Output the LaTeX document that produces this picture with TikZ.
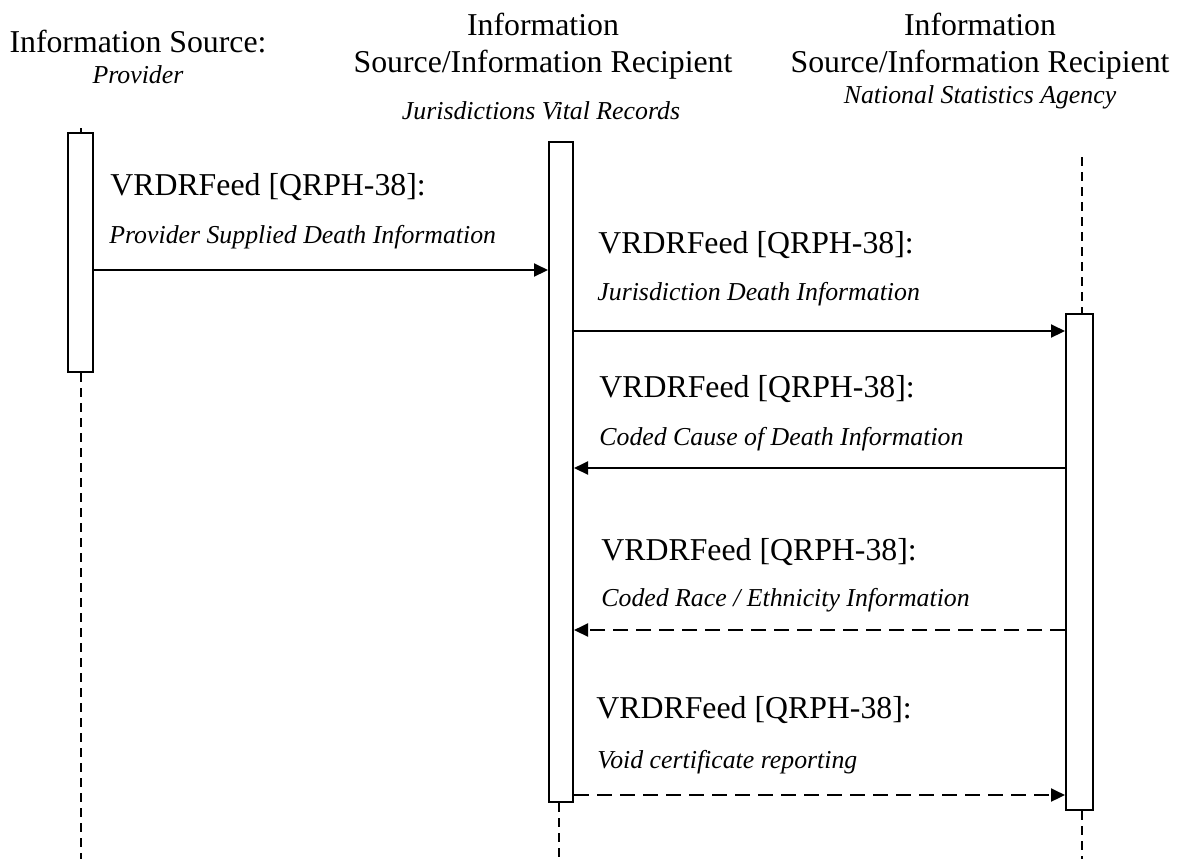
\documentclass[tikz,border=0pt]{standalone}
\usepackage{fontspec}
\setmainfont{Liberation Serif}
\usetikzlibrary{arrows.meta,fit}
\begin{document}
\begin{tikzpicture}[x=0.5pt,y=-0.5pt,
  bar/.style={draw, line width=1pt, fill=white, inner sep=0pt},
  life/.style={line width=1pt, dash pattern=on 4.5pt off 3pt},
  msg/.style={line width=1pt, -{Triangle[length=7pt,width=6.5pt]}},
  dmsg/.style={msg, dash pattern=on 7.5pt off 4pt},
  hdr/.style={anchor=base, inner sep=0pt, font=\fontsize{15.9pt}{19pt}\selectfont},
  hdri/.style={anchor=base, inner sep=0pt, font=\fontsize{12.9pt}{15pt}\selectfont\itshape},
  lbl/.style={anchor=base west, inner sep=0pt, font=\fontsize{15.9pt}{19pt}\selectfont},
  lbli/.style={anchor=base west, inner sep=0pt, font=\fontsize{12.9pt}{15pt}\selectfont\itshape}]
\useasboundingbox (0,0) rectangle (1186,859);

% headers
\node[hdr]  (h1a) at (138,52)  {Information Source:};
\node[hdri] (h1b) at (138,83)  {Provider};
\node[hdr]  (h2a) at (543,35)  {Information};
\node[hdr]  (h2b) at (543,72)  {Source/Information Recipient};
\node[hdri] (h2c) at (541,119) {Jurisdictions Vital Records};
\node[hdr]  (h3a) at (980,35)  {Information};
\node[hdr]  (h3b) at (980,72)  {Source/Information Recipient};
\node[hdri] (h3c) at (980,103) {National Statistics Agency};

% lifelines
\coordinate (lAtop) at (80.5,128);
\coordinate (lAbot) at (80.5,859);
\coordinate (lBbot) at (559,859);
\coordinate (lCtop) at (1082,157);
\coordinate (lCbot) at (1082,859);

% activation bars
\node[bar, fit={(68,133) (93,372)}] (barA) {};
\node[bar, fit={(549,142) (573,802)}] (barB) {};
\node[bar, fit={(1066,314) (1093,810)}] (barC) {};

\draw[life] (lAtop) -- (barA.north -| lAtop);
\draw[life] (barA.south -| lAbot) -- (lAbot);
\draw[life] (barB.south -| lBbot) -- (lBbot);
\draw[life] (lCtop) -- (barC.north -| lCtop);
\draw[life] (barC.south -| lCbot) -- (lCbot);

% message rows
\coordinate (y1) at (0,270);
\coordinate (y2) at (0,331);
\coordinate (y3) at (0,468);
\coordinate (y4) at (0,630);
\coordinate (y5) at (0,795);

\draw[msg]  (barA.east |- y1) -- (barB.west |- y1);
\draw[msg]  (barB.east |- y2) -- (barC.west |- y2);
\draw[msg]  (barC.west |- y3) -- (barB.east |- y3);
\draw[dmsg] (barC.west |- y4) -- (barB.east |- y4);
\draw[dmsg] (barB.east |- y5) -- (barC.west |- y5);

% labels
\node[lbl]  (m1a) at (110,195) {VRDRFeed [QRPH-38]:};
\node[lbli] (m1b) at (109,243) {Provider Supplied Death Information};
\node[lbl]  (m2a) at (598,253) {VRDRFeed [QRPH-38]:};
\node[lbli] (m2b) at (597,300) {Jurisdiction Death Information};
\node[lbl]  (m3a) at (599,397) {VRDRFeed [QRPH-38]:};
\node[lbli] (m3b) at (599,445) {Coded Cause of Death Information};
\node[lbl]  (m4a) at (601,560) {VRDRFeed [QRPH-38]:};
\node[lbli] (m4b) at (601,606) {Coded Race / Ethnicity Information};
\node[lbl]  (m5a) at (596,718) {VRDRFeed [QRPH-38]:};
\node[lbli] (m5b) at (597,768) {Void certificate reporting};
\end{tikzpicture}
\end{document}
